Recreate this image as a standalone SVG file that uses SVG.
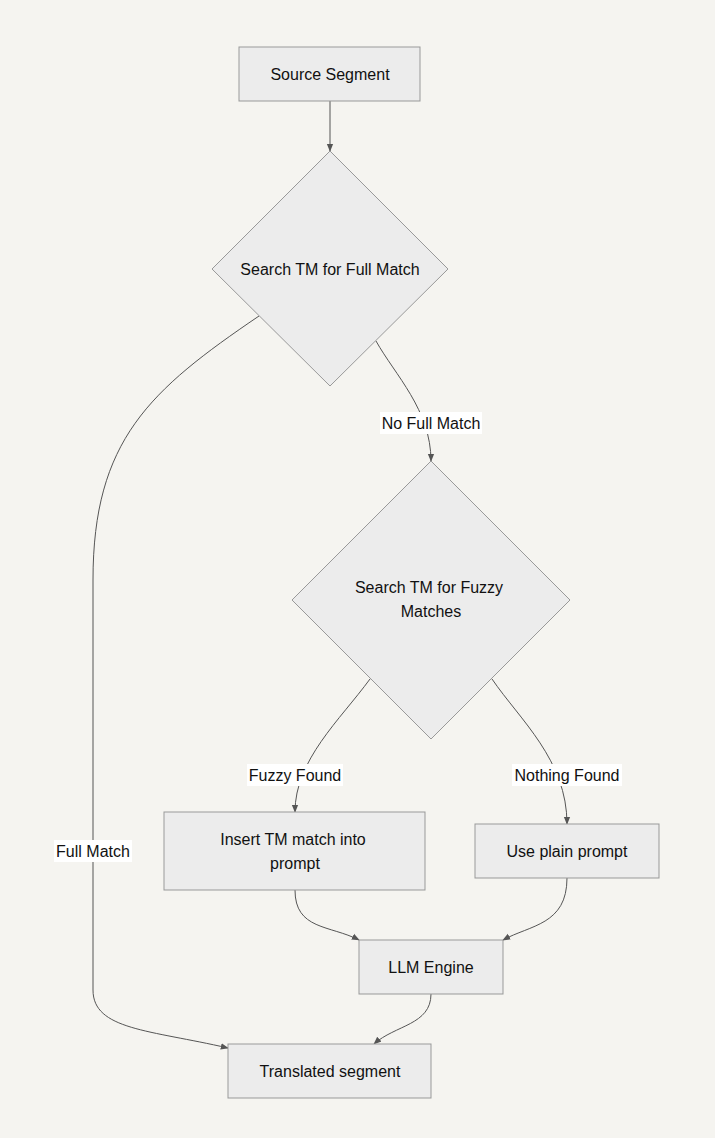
<svg xmlns="http://www.w3.org/2000/svg" width="715" height="1138" viewBox="0 0 715 1138">
<style>
.n{fill:#ececec;stroke:#999;stroke-width:1}
.e{fill:none;stroke:#555;stroke-width:1}
text{font-family:"Helvetica","Liberation Sans",Arial,sans-serif;font-size:16px;fill:#111;text-anchor:middle;dominant-baseline:central}
.lb{fill:#fff}
</style>
<defs><marker id="a" viewBox="0 0 10 10" refX="9" refY="5" markerWidth="8" markerHeight="8" orient="auto"><path d="M0,1L10,5L0,9z" fill="#555"/></marker></defs>
<rect x="0" y="0" width="715" height="1138" fill="#f5f4f0"/>
<g id="edges">
<path class="e" d="M330,101V151" marker-end="url(#a)"/>
<path class="e" d="M376,341C395,375 431,410 431,461" marker-end="url(#a)"/>
<path class="e" d="M259,316C150,390 93,440 93,580V990C93,1030 150,1030 228,1048" marker-end="url(#a)"/>
<path class="e" d="M370,679C340,720 295,760 295,812" marker-end="url(#a)"/>
<path class="e" d="M492,679C520,720 567,760 567,824" marker-end="url(#a)"/>
<path class="e" d="M295,890C295,930 330,925 359,940" marker-end="url(#a)"/>
<path class="e" d="M567,878C567,925 530,925 503,940" marker-end="url(#a)"/>
<path class="e" d="M431,994C431,1025 395,1025 374,1044" marker-end="url(#a)"/>
<rect class="lb" x="380" y="412" width="102" height="22"/><text x="431" y="423">No Full Match</text>
<rect class="lb" x="54" y="840" width="78" height="22"/><text x="93" y="851">Full Match</text>
<rect class="lb" x="247" y="764" width="96" height="22"/><text x="295" y="775">Fuzzy Found</text>
<rect class="lb" x="512" y="764" width="110" height="22"/><text x="567" y="775">Nothing Found</text>
</g>
<g id="source"><rect class="n" x="239" y="47" width="181" height="54"/><text x="330" y="74">Source Segment</text></g>
<g id="d1"><polygon class="n" points="330,151 448,269 330,386 212,269"/><text x="330" y="269">Search TM for Full Match</text></g>
<g id="d2"><polygon class="n" points="431,461 570,600 431,739 292,600"/><text x="429" y="587">Search TM for Fuzzy</text><text x="431" y="611">Matches</text></g>
<g id="insert"><rect class="n" x="164" y="812" width="261" height="78"/><text x="293" y="839">Insert TM match into</text><text x="295" y="863">prompt</text></g>
<g id="plain"><rect class="n" x="475" y="824" width="184" height="54"/><text x="567" y="851">Use plain prompt</text></g>
<g id="llm"><rect class="n" x="359" y="940" width="144" height="54"/><text x="431" y="967">LLM Engine</text></g>
<g id="translated"><rect class="n" x="228" y="1044" width="203" height="54"/><text x="330" y="1071">Translated segment</text></g>
</svg>
